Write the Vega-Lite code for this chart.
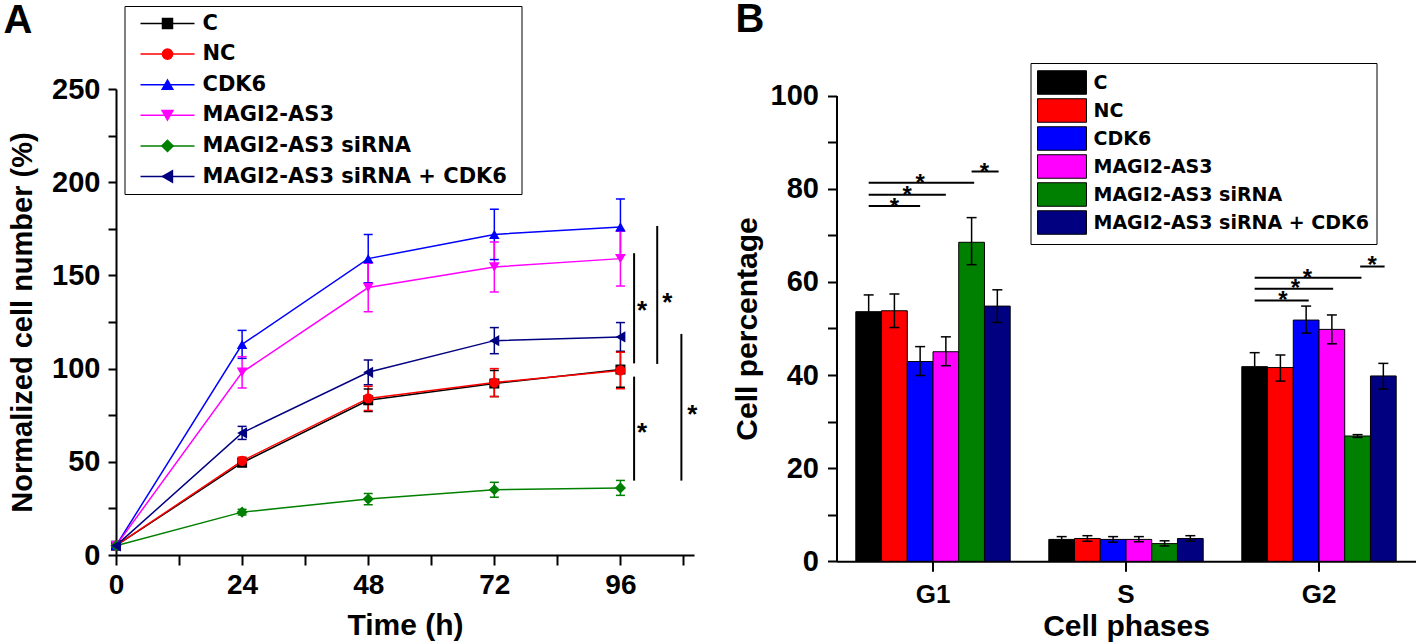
{
  "$schema": "https://vega.github.io/schema/vega-lite/v6.json",
  "background": "white",
  "padding": {"left": 3, "top": 0, "right": 0, "bottom": 0},
  "autosize": {"type": "pad"},
  "bounds": "flush",
  "spacing": 142.5,
  "config": {
    "view": {"stroke": null},
    "font": "Liberation Sans",
    "axis": {
      "domainColor": "black", "domainWidth": 2, "tickColor": "black", "tickWidth": 2,
      "labelColor": "black", "labelFont": "Liberation Sans", "labelFontWeight": "bold", "labelFontSize": 29,
      "titleColor": "black", "titleFont": "Liberation Sans", "titleFontWeight": "bold", "titleFontSize": 30,
      "grid": false, "labelFlush": false, "labelOverlap": false, "labelAngle": 0
    }
  },
  "resolve": {
    "scale": {"color": "independent", "stroke": "independent", "fill": "independent", "shape": "independent", "size": "independent"},
    "legend": {"color": "independent", "stroke": "independent", "fill": "independent", "shape": "independent", "size": "independent"}
  },
  "hconcat": [
    {
      "width": 578,
      "height": 466,
      "title": {"text": "A", "anchor": "start", "frame": "group", "orient": "top", "offset": -35.75, "dx": -112.5, "baseline": "top", "align": "left", "fontSize": 40, "font": "Liberation Sans", "fontWeight": "bold", "color": "black"},
      "data": {"values": [
        {"series": "C", "t": 0, "v": 5, "lo": 4, "hi": 6},
        {"series": "C", "t": 24, "v": 49.5, "lo": 47.5, "hi": 51.5},
        {"series": "C", "t": 48, "v": 83, "lo": 77, "hi": 89},
        {"series": "C", "t": 72, "v": 92, "lo": 85, "hi": 99},
        {"series": "C", "t": 96, "v": 99.5, "lo": 90, "hi": 109},
        {"series": "NC", "t": 0, "v": 5, "lo": 4, "hi": 6},
        {"series": "NC", "t": 24, "v": 50.5, "lo": 48.5, "hi": 52.5},
        {"series": "NC", "t": 48, "v": 84, "lo": 77.5, "hi": 90.5},
        {"series": "NC", "t": 72, "v": 92.5, "lo": 85, "hi": 100},
        {"series": "NC", "t": 96, "v": 99, "lo": 89.2, "hi": 108.8},
        {"series": "CDK6", "t": 0, "v": 5, "lo": 3.5, "hi": 6.5},
        {"series": "CDK6", "t": 24, "v": 113, "lo": 105.5, "hi": 120.5},
        {"series": "CDK6", "t": 48, "v": 159, "lo": 146, "hi": 172},
        {"series": "CDK6", "t": 72, "v": 172, "lo": 158.5, "hi": 185.5},
        {"series": "CDK6", "t": 96, "v": 176, "lo": 161, "hi": 191},
        {"series": "MAGI2-AS3", "t": 0, "v": 5, "lo": 4, "hi": 6},
        {"series": "MAGI2-AS3", "t": 24, "v": 98, "lo": 89.6, "hi": 106.4},
        {"series": "MAGI2-AS3", "t": 48, "v": 143.5, "lo": 130.5, "hi": 156.5},
        {"series": "MAGI2-AS3", "t": 72, "v": 154.5, "lo": 141.1, "hi": 167.9},
        {"series": "MAGI2-AS3", "t": 96, "v": 159, "lo": 144.3, "hi": 173.7},
        {"series": "MAGI2-AS3  siRNA", "t": 0, "v": 5, "lo": 4, "hi": 6},
        {"series": "MAGI2-AS3  siRNA", "t": 24, "v": 23, "lo": 21.5, "hi": 24.5},
        {"series": "MAGI2-AS3  siRNA", "t": 48, "v": 30, "lo": 27, "hi": 33},
        {"series": "MAGI2-AS3  siRNA", "t": 72, "v": 35, "lo": 31, "hi": 39},
        {"series": "MAGI2-AS3  siRNA", "t": 96, "v": 36, "lo": 32, "hi": 40},
        {"series": "MAGI2-AS3  siRNA + CDK6", "t": 0, "v": 5, "lo": 4, "hi": 6},
        {"series": "MAGI2-AS3  siRNA + CDK6", "t": 24, "v": 65.5, "lo": 62, "hi": 69},
        {"series": "MAGI2-AS3  siRNA + CDK6", "t": 48, "v": 98, "lo": 91.4, "hi": 104.6},
        {"series": "MAGI2-AS3  siRNA + CDK6", "t": 72, "v": 115, "lo": 108, "hi": 122},
        {"series": "MAGI2-AS3  siRNA + CDK6", "t": 96, "v": 117, "lo": 109.3, "hi": 124.7}
      ]},
      "layer": [
        {
          "mark": {"type": "rule", "strokeWidth": 1.5, "opacity": 1},
          "encoding": {
            "x": {"field": "t", "type": "quantitative", "scale": {"domain": [0, 110], "nice": false},
              "axis": {"title": "Time (h)", "values": [0, 12, 24, 36, 48, 60, 72, 84, 96, 108], "labelExpr": "datum.value % 24 === 0 ? datum.label : ''", "tickSize": 10, "labelFontSize": 28, "labelPadding": 6, "titlePadding": 11,
                "encode": {"ticks": {"y2": {"value": {"expr": "datum.value % 24 === 0 ? 10 : 5"}}}}}},
            "y": {"field": "lo", "type": "quantitative", "scale": {"domain": [0, 250], "nice": false},
              "axis": {"title": "Normalized cell number (%)", "values": [0, 25, 50, 75, 100, 125, 150, 175, 200, 225, 250], "labelExpr": "datum.value % 50 === 0 ? datum.label : ''", "tickSize": 8, "labelPadding": 8, "titlePadding": 14, "titleFontSize": 29,
                "encode": {"ticks": {"x2": {"value": {"expr": "datum.value % 50 === 0 ? -8 : -4"}}}}}},
            "y2": {"field": "hi"},
            "color": {"field": "series", "type": "nominal", "scale": {"domain": ["C", "NC", "CDK6", "MAGI2-AS3", "MAGI2-AS3  siRNA", "MAGI2-AS3  siRNA + CDK6"], "range": ["#000000", "#FF0000", "#0000FF", "#FF00FF", "#008000", "#000080"]}}
          }
        },
        {
          "mark": {"type": "tick", "orient": "horizontal", "size": 9, "thickness": 1.5, "opacity": 1},
          "encoding": {
            "x": {"field": "t", "type": "quantitative", "scale": {"domain": [0, 110], "nice": false}},
            "y": {"field": "lo", "type": "quantitative", "scale": {"domain": [0, 250], "nice": false}},
            "color": {"field": "series", "type": "nominal", "scale": {"domain": ["C", "NC", "CDK6", "MAGI2-AS3", "MAGI2-AS3  siRNA", "MAGI2-AS3  siRNA + CDK6"], "range": ["#000000", "#FF0000", "#0000FF", "#FF00FF", "#008000", "#000080"]}}
          }
        },
        {
          "mark": {"type": "tick", "orient": "horizontal", "size": 9, "thickness": 1.5, "opacity": 1},
          "encoding": {
            "x": {"field": "t", "type": "quantitative", "scale": {"domain": [0, 110], "nice": false}},
            "y": {"field": "hi", "type": "quantitative", "scale": {"domain": [0, 250], "nice": false}},
            "color": {"field": "series", "type": "nominal", "scale": {"domain": ["C", "NC", "CDK6", "MAGI2-AS3", "MAGI2-AS3  siRNA", "MAGI2-AS3  siRNA + CDK6"], "range": ["#000000", "#FF0000", "#0000FF", "#FF00FF", "#008000", "#000080"]}}
          }
        },
        {
          "mark": {"type": "line", "strokeWidth": 1.5},
          "encoding": {
            "x": {"field": "t", "type": "quantitative", "scale": {"domain": [0, 110], "nice": false}},
            "y": {"field": "v", "type": "quantitative", "scale": {"domain": [0, 250], "nice": false}},
            "stroke": {"field": "series", "type": "nominal", "sort": ["C", "NC", "CDK6", "MAGI2-AS3", "MAGI2-AS3  siRNA", "MAGI2-AS3  siRNA + CDK6"], "scale": {"range": ["#000000", "#FF0000", "#0000FF", "#FF00FF", "#008000", "#000080"]},
              "legend": {
                "orient": "none", "legendX": 8.5, "legendY": -83, "title": null, "padding": 7,
                "symbolType": "M-3.375,0H3.375", "symbolSize": 256, "symbolStrokeWidth": 1.5,
                "symbolOffset": 25.5, "labelOffset": 24.5, "rowPadding": 8.6,
                "labelFont": "DejaVu Sans", "labelFontSize": 21, "labelFontWeight": "bold", "labelColor": "black", "labelOpacity": 0, "labelLimit": 600
              }}
          }
        },
        {
          "mark": {"type": "point", "filled": true, "opacity": 1},
          "encoding": {
            "x": {"field": "t", "type": "quantitative", "scale": {"domain": [0, 110], "nice": false}},
            "y": {"field": "v", "type": "quantitative", "scale": {"domain": [0, 250], "nice": false}},
            "color": {"field": "series", "type": "nominal", "scale": {"domain": ["C", "NC", "CDK6", "MAGI2-AS3", "MAGI2-AS3  siRNA", "MAGI2-AS3  siRNA + CDK6"], "range": ["#000000", "#FF0000", "#0000FF", "#FF00FF", "#008000", "#000080"]},
              "legend": {
                "orient": "none", "legendX": 8.5, "legendY": -83, "title": null,
                "padding": 7, "strokeColor": "black",
                "symbolSize": 121, "symbolOpacity": 1, "symbolOffset": 25.5, "labelOffset": 24.5, "rowPadding": 8.6,
                "labelFont": "DejaVu Sans", "labelFontSize": 21, "labelFontWeight": "bold", "labelColor": "black", "labelLimit": 600
              }},
            "shape": {"field": "series", "type": "nominal", "scale": {"domain": ["C", "NC", "CDK6", "MAGI2-AS3", "MAGI2-AS3  siRNA", "MAGI2-AS3  siRNA + CDK6"], "range": ["square", "circle", "triangle-up", "triangle-down", "diamond", "triangle-left"]}},
            "size": {"field": "series", "type": "nominal", "scale": {"domain": ["C", "NC", "CDK6", "MAGI2-AS3", "MAGI2-AS3  siRNA", "MAGI2-AS3  siRNA + CDK6"], "range": [100, 130, 150, 150, 150, 150]}}
          }
        },
        {
          "data": {"values": [
            {"bx": 98.6, "ya": 102.8, "yb": 161.9},
            {"bx": 103, "ya": 102.5, "yb": 176.5},
            {"bx": 98.6, "ya": 39.9, "yb": 95.7},
            {"bx": 107.6, "ya": 39.9, "yb": 118.6}
          ]},
          "mark": {"type": "rule", "strokeWidth": 2, "color": "black", "opacity": 1},
          "encoding": {
            "x": {"field": "bx", "type": "quantitative", "scale": {"domain": [0, 110], "nice": false}},
            "y": {"field": "ya", "type": "quantitative", "scale": {"domain": [0, 250], "nice": false}},
            "y2": {"field": "yb"}
          }
        },
        {
          "data": {"values": [
            {"sx": 100.1, "sy": 134.1, "mark": "*"},
            {"sx": 104.9, "sy": 138.3, "mark": "*"},
            {"sx": 100.1, "sy": 68.5, "mark": "*"},
            {"sx": 109.7, "sy": 78.3, "mark": "*"}
          ]},
          "mark": {"type": "text", "font": "Liberation Sans", "fontWeight": "bold", "fontSize": 26, "color": "black", "align": "center", "baseline": "middle", "dy": 6},
          "encoding": {
            "x": {"field": "sx", "type": "quantitative", "scale": {"domain": [0, 110], "nice": false}},
            "y": {"field": "sy", "type": "quantitative", "scale": {"domain": [0, 250], "nice": false}},
            "text": {"field": "mark"}
          }
        }
      ]
    },
    {
      "width": 579,
      "height": 472.3,
      "title": {"text": "B", "anchor": "start", "frame": "group", "orient": "top", "offset": 22.25, "dx": -101, "baseline": "top", "align": "left", "fontSize": 40, "font": "Liberation Sans", "fontWeight": "bold", "color": "black"},
      "resolve": {"scale": {"xOffset": "independent"}},
      "data": {"values": [
        {"phase": "G1", "group": "C", "v": 53.6, "lo": 50.0, "hi": 57.2},
        {"phase": "G1", "group": "NC", "v": 53.8, "lo": 50.2, "hi": 57.4},
        {"phase": "G1", "group": "CDK6", "v": 42.9, "lo": 39.9, "hi": 46.1},
        {"phase": "G1", "group": "MAGI2-AS3", "v": 45.0, "lo": 42.0, "hi": 48.2},
        {"phase": "G1", "group": "MAGI2-AS3 siRNA", "v": 68.5, "lo": 63.7, "hi": 73.8},
        {"phase": "G1", "group": "MAGI2-AS3 siRNA + CDK6", "v": 54.8, "lo": 51.3, "hi": 58.3},
        {"phase": "S", "group": "C", "v": 4.7, "lo": 4.1, "hi": 5.3},
        {"phase": "S", "group": "NC", "v": 4.9, "lo": 4.3, "hi": 5.5},
        {"phase": "S", "group": "CDK6", "v": 4.7, "lo": 4.1, "hi": 5.3},
        {"phase": "S", "group": "MAGI2-AS3", "v": 4.7, "lo": 4.2, "hi": 5.3},
        {"phase": "S", "group": "MAGI2-AS3 siRNA", "v": 3.8, "lo": 3.3, "hi": 4.4},
        {"phase": "S", "group": "MAGI2-AS3 siRNA + CDK6", "v": 4.9, "lo": 4.3, "hi": 5.5},
        {"phase": "G2", "group": "C", "v": 41.8, "lo": 38.8, "hi": 44.8},
        {"phase": "G2", "group": "NC", "v": 41.6, "lo": 38.7, "hi": 44.3},
        {"phase": "G2", "group": "CDK6", "v": 51.8, "lo": 49.0, "hi": 54.8},
        {"phase": "G2", "group": "MAGI2-AS3", "v": 49.8, "lo": 46.7, "hi": 52.9},
        {"phase": "G2", "group": "MAGI2-AS3 siRNA", "v": 26.9, "lo": 26.6, "hi": 27.2},
        {"phase": "G2", "group": "MAGI2-AS3 siRNA + CDK6", "v": 39.8, "lo": 37.0, "hi": 42.5}
      ]},
      "layer": [
        {
          "mark": {"type": "bar", "stroke": "black", "strokeWidth": 1},
          "encoding": {
            "x": {"field": "phase", "type": "nominal", "sort": ["G1", "S", "G2"], "scale": {"domain": ["G1", "S", "G2"], "paddingInner": 0.2, "paddingOuter": 0.1},
              "axis": {"title": "Cell phases", "tickSize": 10, "labelFontSize": 26, "labelPadding": 10, "titlePadding": 4}},
            "xOffset": {"field": "group", "type": "nominal", "scale": {"domain": ["C", "NC", "CDK6", "MAGI2-AS3", "MAGI2-AS3 siRNA", "MAGI2-AS3 siRNA + CDK6"], "paddingInner": 0, "paddingOuter": 0}},
            "y": {"field": "v", "type": "quantitative", "scale": {"domain": [0, 100], "nice": false, "range": [472.3, 6.6]},
              "axis": {"title": "Cell percentage", "values": [0, 10, 20, 30, 40, 50, 60, 70, 80, 90, 100], "labelExpr": "datum.value % 20 === 0 ? datum.label : ''", "tickSize": 9, "labelPadding": 9, "titlePadding": 8,
                "encode": {"ticks": {"x2": {"value": {"expr": "datum.value % 20 === 0 ? -9 : -4.5"}}}}}},
            "fill": {"field": "group", "type": "nominal", "scale": {"domain": ["C", "NC", "CDK6", "MAGI2-AS3", "MAGI2-AS3 siRNA", "MAGI2-AS3 siRNA + CDK6"], "range": ["#000000", "#FF0000", "#0000FF", "#FF00FF", "#008000", "#000080"]},
              "legend": {
                "orient": "none", "legendX": 194, "legendY": -26, "title": null,
                "padding": 7, "strokeColor": "black",
                "symbolType": "M-2.04,-0.98H2.04V0.98H-2.04Z", "symbolSize": 576, "symbolStrokeColor": "black", "symbolStrokeWidth": 1,
                "symbolOffset": 12, "labelOffset": 19, "rowPadding": -1,
                "labelFont": "DejaVu Sans", "labelFontSize": 19, "labelFontWeight": "bold", "labelColor": "black", "labelLimit": 600
              }}
          }
        },
        {
          "mark": {"type": "rule", "strokeWidth": 1.5, "color": "black", "opacity": 1},
          "encoding": {
            "x": {"field": "phase", "type": "nominal", "sort": ["G1", "S", "G2"], "scale": {"domain": ["G1", "S", "G2"], "paddingInner": 0.2, "paddingOuter": 0.1}},
            "xOffset": {"field": "group", "type": "nominal", "scale": {"domain": ["C", "NC", "CDK6", "MAGI2-AS3", "MAGI2-AS3 siRNA", "MAGI2-AS3 siRNA + CDK6"], "paddingInner": 0, "paddingOuter": 0}},
            "y": {"field": "lo", "type": "quantitative", "scale": {"domain": [0, 100], "nice": false, "range": [472.3, 6.6]}},
            "y2": {"field": "hi"}
          }
        },
        {
          "mark": {"type": "tick", "orient": "horizontal", "size": 10, "thickness": 1.5, "color": "black", "opacity": 1},
          "encoding": {
            "x": {"field": "phase", "type": "nominal", "sort": ["G1", "S", "G2"], "scale": {"domain": ["G1", "S", "G2"], "paddingInner": 0.2, "paddingOuter": 0.1}},
            "xOffset": {"field": "group", "type": "nominal", "scale": {"domain": ["C", "NC", "CDK6", "MAGI2-AS3", "MAGI2-AS3 siRNA", "MAGI2-AS3 siRNA + CDK6"], "paddingInner": 0, "paddingOuter": 0}},
            "y": {"field": "lo", "type": "quantitative", "scale": {"domain": [0, 100], "nice": false, "range": [472.3, 6.6]}}
          }
        },
        {
          "mark": {"type": "tick", "orient": "horizontal", "size": 10, "thickness": 1.5, "color": "black", "opacity": 1},
          "encoding": {
            "x": {"field": "phase", "type": "nominal", "sort": ["G1", "S", "G2"], "scale": {"domain": ["G1", "S", "G2"], "paddingInner": 0.2, "paddingOuter": 0.1}},
            "xOffset": {"field": "group", "type": "nominal", "scale": {"domain": ["C", "NC", "CDK6", "MAGI2-AS3", "MAGI2-AS3 siRNA", "MAGI2-AS3 siRNA + CDK6"], "paddingInner": 0, "paddingOuter": 0}},
            "y": {"field": "hi", "type": "quantitative", "scale": {"domain": [0, 100], "nice": false, "range": [472.3, 6.6]}}
          }
        },
        {
          "data": {"values": [
            {"id": "g1a", "phase": "G1", "pos": 0, "level": 76.3},
            {"id": "g1a", "phase": "G1", "pos": 2, "level": 76.3},
            {"id": "g1b", "phase": "G1", "pos": 0, "level": 78.7},
            {"id": "g1b", "phase": "G1", "pos": 3, "level": 78.7},
            {"id": "g1c", "phase": "G1", "pos": 0, "level": 81.3},
            {"id": "g1c", "phase": "G1", "pos": 4.1, "level": 81.3},
            {"id": "g1d", "phase": "G1", "pos": 4, "level": 83.7},
            {"id": "g1d", "phase": "G1", "pos": 5.05, "level": 83.7},
            {"id": "g2a", "phase": "G2", "pos": 0, "level": 56.0},
            {"id": "g2a", "phase": "G2", "pos": 2.1, "level": 56.0},
            {"id": "g2b", "phase": "G2", "pos": 0, "level": 58.5},
            {"id": "g2b", "phase": "G2", "pos": 3.05, "level": 58.5},
            {"id": "g2c", "phase": "G2", "pos": 0, "level": 60.9},
            {"id": "g2c", "phase": "G2", "pos": 4.15, "level": 60.9},
            {"id": "g2d", "phase": "G2", "pos": 4.1, "level": 63.3},
            {"id": "g2d", "phase": "G2", "pos": 5.05, "level": 63.3}
          ]},
          "mark": {"type": "line", "strokeWidth": 2, "color": "black"},
          "encoding": {
            "x": {"field": "phase", "type": "nominal", "sort": ["G1", "S", "G2"], "scale": {"domain": ["G1", "S", "G2"], "paddingInner": 0.2, "paddingOuter": 0.1}},
            "xOffset": {"field": "pos", "type": "quantitative", "scale": {"domain": [-0.5, 5.5], "range": [0, 154.4], "nice": false, "zero": false}},
            "y": {"field": "level", "type": "quantitative", "scale": {"domain": [0, 100], "nice": false, "range": [472.3, 6.6]}},
            "detail": {"field": "id"}
          }
        },
        {
          "data": {"values": [
            {"phase": "G1", "pos": 1, "level": 77.2, "mark": "*"},
            {"phase": "G1", "pos": 1.5, "level": 79.7, "mark": "*"},
            {"phase": "G1", "pos": 2, "level": 82.3, "mark": "*"},
            {"phase": "G1", "pos": 4.5, "level": 84.7, "mark": "*"},
            {"phase": "G2", "pos": 1.1, "level": 57.2, "mark": "*"},
            {"phase": "G2", "pos": 1.58, "level": 59.7, "mark": "*"},
            {"phase": "G2", "pos": 2.05, "level": 62.0, "mark": "*"},
            {"phase": "G2", "pos": 4.57, "level": 64.7, "mark": "*"}
          ]},
          "mark": {"type": "text", "font": "Liberation Sans", "fontWeight": "bold", "fontSize": 24, "color": "black", "align": "center", "baseline": "middle", "dy": 6},
          "encoding": {
            "x": {"field": "phase", "type": "nominal", "sort": ["G1", "S", "G2"], "scale": {"domain": ["G1", "S", "G2"], "paddingInner": 0.2, "paddingOuter": 0.1}},
            "xOffset": {"field": "pos", "type": "quantitative", "scale": {"domain": [-0.5, 5.5], "range": [0, 154.4], "nice": false, "zero": false}},
            "y": {"field": "level", "type": "quantitative", "scale": {"domain": [0, 100], "nice": false, "range": [472.3, 6.6]}},
            "text": {"field": "mark"}
          }
        }
      ]
    }
  ]
}
